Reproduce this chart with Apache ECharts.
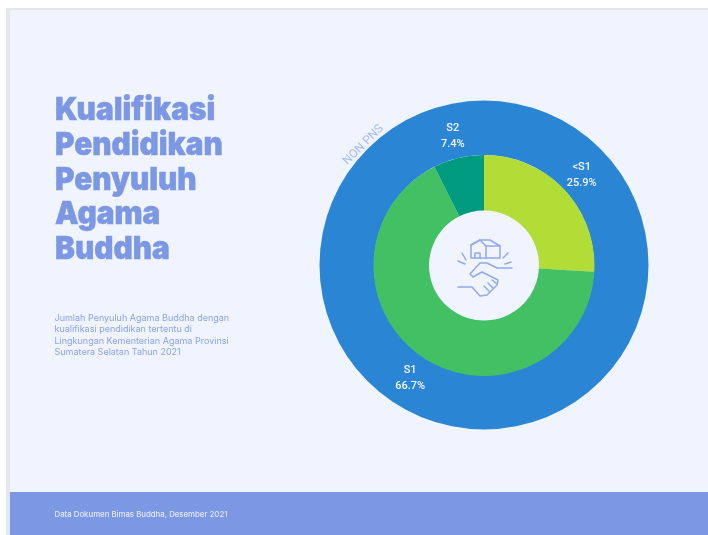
<!DOCTYPE html>
<html>
<head>
<meta charset="utf-8">
<style>html,body{margin:0;padding:0;background:#fff}#c{width:708px;height:535px}</style>
<script src="https://cdn.jsdelivr.net/npm/echarts@6/dist/echarts.min.js"></script>
</head>
<body>
<div id="c"></div>
<script>
const categories = ['<S1', 'S1', 'S2'];
const shareValues = [25.9, 66.7, 7.4];
const sliceColors = ['#B2DD37', '#42C063', '#009B7F'];
const labelShifts = [[-4, 6], [3, -4], [1, 7]];
const outerName = 'NON PNS';
const outerValue = [100];
const titleLines = ['Kualifikasi', 'Pendidikan', 'Penyuluh', 'Agama', 'Buddha'];
const subtitleLines = ['Jumlah Penyuluh Agama Buddha dengan', 'kualifikasi pendidikan tertentu di', 'Lingkungan Kementerian Agama Provinsi', 'Sumatera Selatan Tahun 2021'];
const footerText = 'Data Dokumen Bimas Buddha, Desember 2021';
const periwinkle = '#7C97E3';
const iconStroke = '#93A9E8';

const chart = echarts.init(document.getElementById('c'), null, {renderer: 'canvas'});

const line = (pts) => ({type: 'polyline', shape: {points: pts}, style: {fill: null, stroke: iconStroke, lineWidth: 1.5, lineJoin: 'round', lineCap: 'round'}});

chart.setOption({
  animation: false,
  graphic: [
    {type: 'rect', shape: {x: 10, y: 10, width: 698, height: 525}, style: {fill: '#F0F4FF'}, z: -10},
    {type: 'rect', shape: {x: 6, y: 8, width: 4, height: 527}, style: {fill: '#E5E7EE'}, z: -9},
    {type: 'rect', shape: {x: 6, y: 8, width: 702, height: 2}, style: {fill: '#E5E7EE'}, z: -9},
    {type: 'rect', shape: {x: 10, y: 492, width: 698, height: 43}, style: {fill: periwinkle}, z: -8},
    ...titleLines.map((t, i) => ({type: 'text', x: 55, y: 110.5 + i * 34.7, scaleX: 0.93, style: {text: t, fill: periwinkle, stroke: periwinkle, lineWidth: 0.5, font: '900 32px "Inter", "Roboto", sans-serif', textVerticalAlign: 'middle'}})),
    ...subtitleLines.map((t, i) => ({type: 'text', x: 54.5, y: 318 + i * 11.4, style: {text: t, fill: '#8CA3E8', font: '400 9px "Inter", sans-serif', textVerticalAlign: 'middle'}})),
    {type: 'text', x: 54.5, y: 515, style: {text: footerText, fill: '#E4EAFB', font: '500 7.8px "Inter", sans-serif', textVerticalAlign: 'middle'}},
    {type: 'text', x: 363.5, y: 145, rotation: Math.PI * 0.25, style: {text: outerName, fill: '#A9BBF0', font: '400 12px "Roboto", sans-serif', textAlign: 'center', textVerticalAlign: 'middle'}, z: 10},
    {type: 'group', x: 0, y: 0, z: 10, children: [
      line([[471,258],[471,245],[480,240],[490,240],[500,246],[500,258],[471,258]]),
      line([[471,245],[480,240],[486,246],[486,258]]),
      line([[486,246],[500,246]]),
      line([[475,258],[475,253],[480,253],[480,258]]),
      line([[458,261],[465,264]]), line([[462,253],[466,260]]),
      line([[511,262],[505,264]]), line([[508,253],[503,258]]),
      line([[512,268],[497,268],[487,263],[480,263],[470,274],[473,277],[482,272],[498,280],[497,285],[487,295],[480,296],[472,287],[458,287]]),
      line([[484,286],[489,291]]), line([[488,283],[493,288]]), line([[492,280],[497,284]])
    ]}
  ],
  series: [
    {
      type: 'pie', center: [484, 265], radius: [110, 164.5], silent: true, startAngle: 90, z: 1,
      label: {show: false}, labelLine: {show: false},
      itemStyle: {color: '#2A86D5'},
      data: [{name: outerName, value: outerValue[0]}]
    },
    {
      type: 'pie', center: [484, 265.5], radius: [55, 110.5], silent: true, startAngle: 90, clockwise: true, z: 2,
      label: {show: false}, labelLine: {show: false},
      data: categories.map((c, i) => ({name: c, value: shareValues[i], itemStyle: {color: sliceColors[i]}}))
    },
    {
      type: 'pie', center: [484, 265], radius: [110, 164], silent: true, startAngle: 90, clockwise: true, z: 3,
      itemStyle: {color: 'transparent'},
      label: {show: true, position: 'inside', color: '#F4F7FF', fontSize: 11, fontWeight: 500, lineHeight: 16, fontFamily: 'Roboto, sans-serif',
        formatter: (p) => p.name + '\n' + p.value.toFixed(1) + '%'},
      labelLine: {show: false},
      data: categories.map((c, i) => ({name: c, value: shareValues[i], label: {offset: labelShifts[i]}}))
    }
  ]
});
</script>
</body>
</html>
